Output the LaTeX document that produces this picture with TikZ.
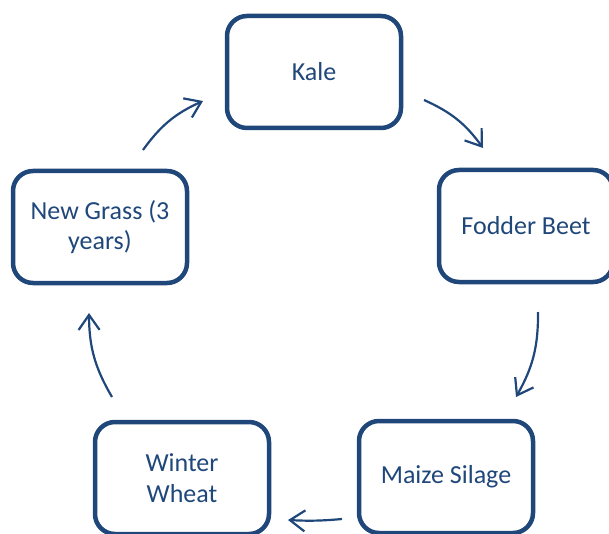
\documentclass[tikz,border=0pt]{standalone}
\usepackage{fontspec}
\setmainfont{Carlito}
\usetikzlibrary{arrows.meta,calc}
\definecolor{navy}{RGB}{31,71,122}
\tikzset{
  cropbox/.style={draw=navy, line width=4.5pt, rounded corners=20pt,
    minimum width=174pt, minimum height=112pt, inner sep=0pt,
    align=center, text=navy, font=\fontsize{26}{30.5}\selectfont},
  cyclearrow/.style={draw=navy, line width=2.2pt,
    -{Straight Barb[length=15pt,width=21pt]}},
}
\begin{document}
\begin{tikzpicture}[x=1pt,y=-1pt]
  \useasboundingbox (0,0) rectangle (609,534);
  \clip (0,0) rectangle (609,534);
  \node[cropbox] (kale)  at (314,72)  {Kale};
  \node[cropbox] (beet)  at (526,226) {Fodder Beet};
  \node[cropbox] (maize) at (446,477) {Maize Silage};
  \node[cropbox] (wheat) at (182,478) {Winter\\Wheat};
  \node[cropbox] (grass) at (100,227) {New Grass (3\\years)};

  \draw[cyclearrow] ($(kale)+(110,28)$)   to[bend left=15] ($(beet)+(-43,-78)$);
  \draw[cyclearrow] ($(beet)+(12,86)$)    to[bend left=15] ($(maize)+(70,-80)$);
  \draw[cyclearrow] ($(maize)+(-104,42)$) to[bend left=4]  ($(wheat)+(106,42)$);
  \draw[cyclearrow] ($(wheat)+(-70,-81)$) to[bend left=15] ($(grass)+(-11,86)$);
  \draw[cyclearrow] ($(grass)+(43,-77)$)  to[bend left=15] ($(kale)+(-111,29)$);
\end{tikzpicture}
\end{document}
